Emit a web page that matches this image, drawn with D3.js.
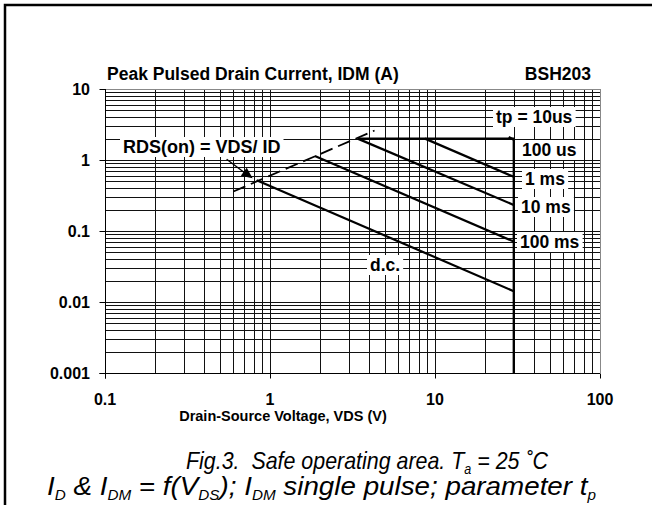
<html>
<head>
<title>BSH203 safe operating area</title>
<script src="https://d3js.org/d3.v7.min.js"></script>
<style>
  body { margin:0; background:#fff; }
  text { font-family: "Liberation Sans", Arial, sans-serif; }
</style>
</head>
<body>
<div id="chart"></div>
<script>

// axis values
var xTicks = [0.1, 1, 10, 100];
var yTicks = [0.001, 0.01, 0.1, 1, 10];
var xTickLabels = ["0.1", "1", "10", "100"];
var yTickLabels = ["0.001", "0.01", "0.1", "1", "10"];

// curves, [VDS (V), ID (A)]
var rdsLine = [[0.6, 0.36], [4.3, 2.6]];
var idmLimit = [[3.4, 2], [30, 2], [30, 0.001]];
var tp10us = [[28, 2.12], [30, 1.93]];
var tp1ms = [[8.7, 2], [30, 0.58]];
var tp10ms = [[3.4, 2], [30, 0.233]];
var tp100ms = [[1.87, 1.14], [30, 0.071]];
var dcLine = [[0.83, 0.52], [30, 0.0142]];

var W = 652, H = 505;
var svg = d3.select("#chart").append("svg")
            .attr("width", W)
            .attr("height", H);

var x = d3.scaleLog().domain([0.1, 100]).range([105, 600]);
var y = d3.scaleLog().domain([0.001, 10]).range([373, 89]);

// outer frame (only top and left are in view)
svg.append("path")
   .attr("d", "M 5 505 L 5 5 L 652 5")
   .attr("fill", "none")
   .attr("stroke", "#000")
   .attr("stroke-width", 2.5);

// grid: every 1..9 in each decade
function decadeValues(lo, hi) {
  var out = [];
  for (var d = lo; d < hi * 0.99; d *= 10) {
    for (var k = 1; k < 10; k++) out.push(d * k);
  }
  out.push(hi);
  return out;
}
var px = function(v) { return Math.round(v) + 0.5; };

var grid = svg.append("g").attr("class", "grid");
grid.selectAll("line.v")
    .data(decadeValues(0.1, 100))
    .enter().append("line")
    .attr("class", "v")
    .attr("x1", d => px(x(d))).attr("x2", d => px(x(d)))
    .attr("y1", y(10)).attr("y2", y(0.001))
    .attr("stroke", (d, i, n) => i == n.length - 1 ? "#888" : "#111")
    .attr("stroke-width", 1);
grid.selectAll("line.h")
    .data(decadeValues(0.001, 10))
    .enter().append("line")
    .attr("class", "h")
    .attr("y1", d => px(y(d))).attr("y2", d => px(y(d)))
    .attr("x1", x(0.1)).attr("x2", x(100))
    .attr("stroke", (d, i, n) => i == n.length - 1 ? "#888" : "#111")
    .attr("stroke-width", 1);

// axis lines and major ticks
svg.append("line")
   .attr("x1", px(x(0.1))).attr("x2", px(x(0.1)))
   .attr("y1", y(10)).attr("y2", px(y(0.001)) + 5)
   .attr("stroke", "#000");
svg.append("line")
   .attr("x1", px(x(0.1)) - 6).attr("x2", x(100))
   .attr("y1", px(y(0.001))).attr("y2", px(y(0.001)))
   .attr("stroke", "#000");

svg.selectAll("line.ytick")
   .data(yTicks)
   .enter().append("line")
   .attr("class", "ytick")
   .attr("x1", px(x(0.1)) - 6).attr("x2", px(x(0.1)))
   .attr("y1", d => px(y(d))).attr("y2", d => px(y(d)))
   .attr("stroke", "#000");
svg.selectAll("line.xtick")
   .data(xTicks)
   .enter().append("line")
   .attr("class", "xtick")
   .attr("x1", d => px(x(d))).attr("x2", d => px(x(d)))
   .attr("y1", px(y(0.001))).attr("y2", px(y(0.001)) + 5)
   .attr("stroke", "#000");

svg.selectAll("text.ylab")
   .data(yTicks)
   .enter().append("text")
   .attr("class", "ylab")
   .attr("x", 90)
   .attr("y", d => y(d) + 6)
   .attr("text-anchor", "end")
   .style("font-weight", "bold")
   .style("font-size", "16px")
   .text((d, i) => yTickLabels[i]);
svg.selectAll("text.xlab")
   .data(xTicks)
   .enter().append("text")
   .attr("class", "xlab")
   .attr("x", d => x(d))
   .attr("y", 405)
   .attr("text-anchor", "middle")
   .style("font-weight", "bold")
   .style("font-size", "16px")
   .text((d, i) => xTickLabels[i]);

// titles
svg.append("text")
   .attr("x", 107).attr("y", 80)
   .style("font-weight", "bold").style("font-size", "17.5px")
   .text("Peak Pulsed Drain Current, IDM (A)");
svg.append("text")
   .attr("x", 591).attr("y", 80)
   .attr("text-anchor", "end")
   .style("font-weight", "bold").style("font-size", "17.5px")
   .text("BSH203");
svg.append("text")
   .attr("x", 283).attr("y", 421)
   .attr("text-anchor", "middle")
   .style("font-weight", "bold").style("font-size", "14.5px")
   .text("Drain-Source Voltage, VDS (V)");

// curves
var line = d3.line().x(d => x(d[0])).y(d => y(d[1]));
var curves = svg.append("g");
curves.append("path")
      .attr("d", line(rdsLine))
      .attr("fill", "none").attr("stroke", "#000")
      .attr("stroke-width", 1.8)
      .attr("stroke-dasharray", "13,6");
[idmLimit, tp10us, tp1ms, tp10ms, tp100ms, dcLine].forEach(function(c) {
  curves.append("path")
        .attr("d", line(c))
        .attr("fill", "none").attr("stroke", "#000")
        .attr("stroke-width", 2.2);
});

// labels with white boxes
function boxLabel(txt, lx, ly, size) {
  var g = svg.append("g");
  var r = g.append("rect").attr("fill", "#fff");
  var t = g.append("text")
           .attr("x", lx).attr("y", ly)
           .style("font-weight", "bold").style("font-size", size + "px")
           .text(txt);
  var b = t.node().getBBox();
  r.attr("x", b.x - 3).attr("y", b.y)
   .attr("width", b.width + 6).attr("height", b.height);
  return g;
}
boxLabel("RDS(on) = VDS/ ID", 123, 153, 18);
boxLabel("tp = 10us", 496, 123, 17.5);
boxLabel("100 us", 522, 156, 17.5);
boxLabel("1 ms", 525, 185, 17.5);
boxLabel("10 ms", 521, 213, 17.5);
boxLabel("100 ms", 520, 248, 17.5);
boxLabel("d.c.", 370, 271, 17.5);

// arrow to RDS line
var tip = [x(dcLine[0][0]) - 4, y(dcLine[0][1]) - 2];
svg.append("line")
   .attr("x1", tip[0] - 26).attr("y1", tip[1] - 19)
   .attr("x2", tip[0] - 6).attr("y2", tip[1] - 4)
   .attr("stroke", "#000").attr("stroke-width", 1.3);
var ang = Math.atan2(19, 26);
var hl = 11, hw = 5;
var bx = tip[0] - hl * Math.cos(ang), by = tip[1] - hl * Math.sin(ang);
svg.append("path")
   .attr("d", "M " + tip[0] + " " + tip[1] +
              " L " + (bx - hw * Math.sin(ang)) + " " + (by + hw * Math.cos(ang)) +
              " L " + (bx + hw * Math.sin(ang)) + " " + (by - hw * Math.cos(ang)) + " Z")
   .attr("fill", "#000");

// caption
var cap1 = svg.append("text")
   .attr("x", 186).attr("y", 469)
   .style("font-style", "italic").style("font-size", "24px")
   .attr("textLength", 362).attr("lengthAdjust", "spacingAndGlyphs");
cap1.append("tspan").text("Fig.3.\u00a0\u00a0Safe operating area. T");
cap1.append("tspan").attr("dy", 5).style("font-size", "14px").text("a");
cap1.append("tspan").attr("dy", -5).text(" = 25 \u02daC");

var cap2 = svg.append("text")
   .attr("x", 47).attr("y", 495)
   .style("font-style", "italic").style("font-size", "25.5px")
   .attr("textLength", 549).attr("lengthAdjust", "spacingAndGlyphs");
var parts = [["I", 0], ["D", 1], [" & I", 0], ["DM", 1], [" = f(V", 0], ["DS", 1],
             ["); I", 0], ["DM", 1], [" single pulse; parameter t", 0], ["p", 1]];
var down = false;
parts.forEach(function(p) {
  var ts = cap2.append("tspan").text(p[0]);
  if (p[1]) { ts.attr("dy", 5).style("font-size", "14px"); down = true; }
  else if (down) { ts.attr("dy", -5); down = false; }
});

</script>
</body>
</html>
